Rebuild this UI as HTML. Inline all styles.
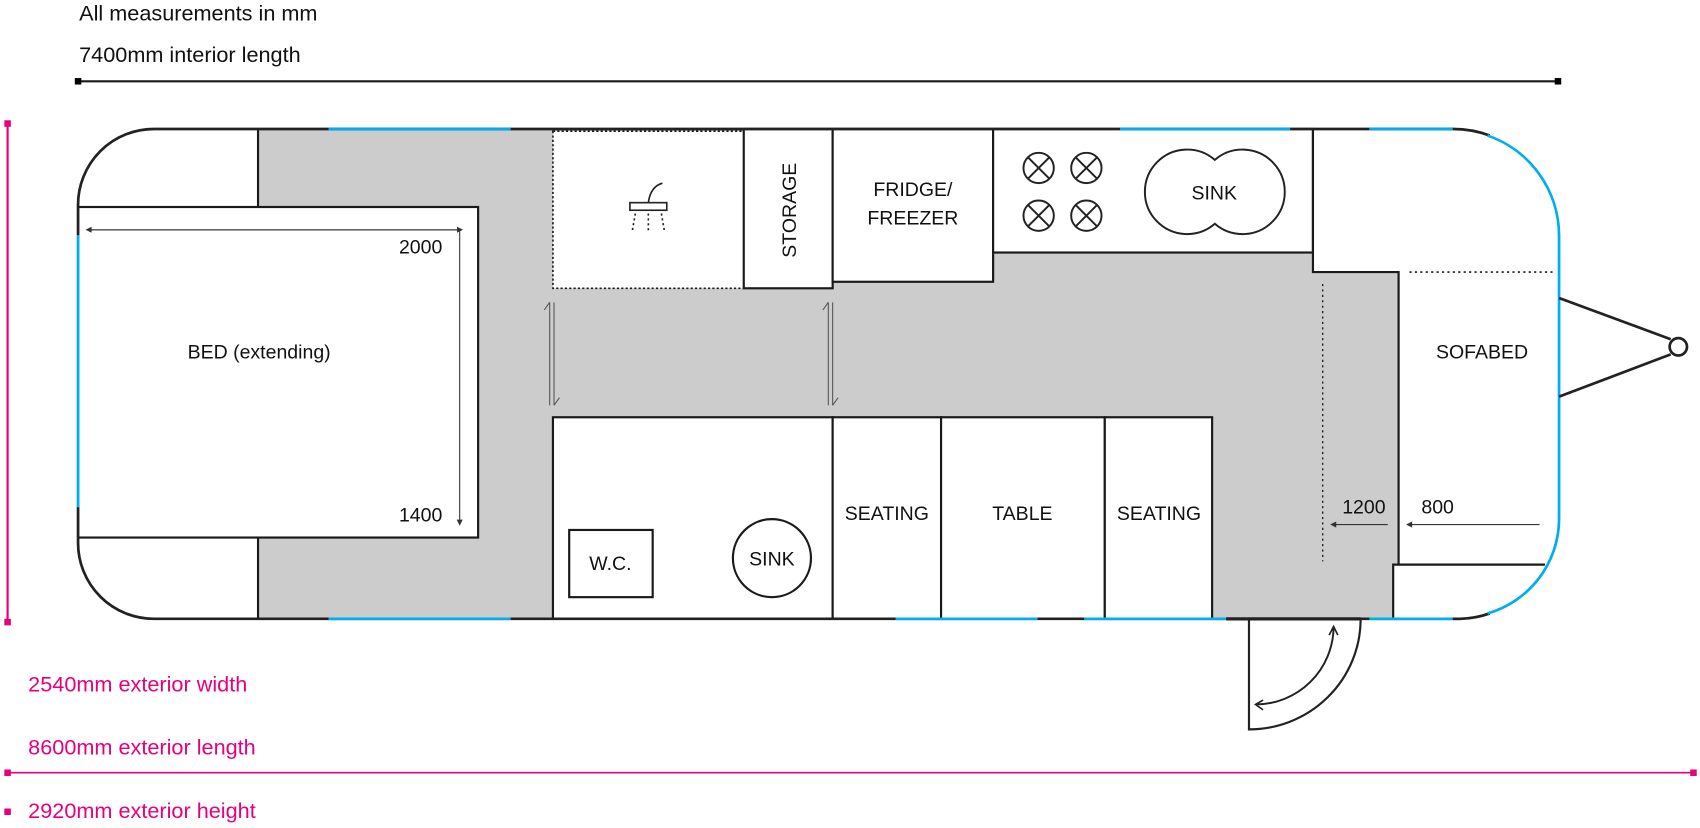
<!DOCTYPE html>
<html><head><meta charset="utf-8"><style>
html,body{margin:0;padding:0;background:#fff;}
svg{display:block;}
text{font-family:"Liberation Sans",sans-serif;fill:#111;}
</style></head><body>
<svg width="1700" height="828" viewBox="0 0 1568 764" preserveAspectRatio="none" xmlns="http://www.w3.org/2000/svg">
<rect width="1568" height="764" fill="#fff"/>
<text x="73" y="19" font-size="20">All measurements in mm</text>
<text x="73" y="57" font-size="20">7400mm interior length</text>
<line x1="72" y1="75" x2="1437" y2="75" stroke="#1a1a1a" stroke-width="2"/>
<rect x="69" y="72" width="6" height="6" fill="#000"/><rect x="1434" y="72" width="6" height="6" fill="#000"/>

<rect x="238" y="119" width="1052" height="452" fill="#ccc"/>
<g fill="#fff" stroke="#1a1a1a" stroke-width="2">
<path d="M142,119 L238,119 L238,191 L72,191 L72,189 A70 70 0 0 1 142,119 Z" stroke="none"/>
<line x1="238" y1="119" x2="238" y2="191"/>
<path d="M72,496 L238,496 L238,571 L142,571 A70 70 0 0 1 72,501 Z" stroke="none"/>
<line x1="238" y1="496" x2="238" y2="571"/>
<rect x="72" y="191" width="369" height="305"/>
<rect x="510" y="121" width="176" height="145" stroke-dasharray="2,2" stroke-width="1.5"/>
<rect x="686" y="119" width="82" height="147"/>
<rect x="768" y="119" width="148" height="141"/>
<rect x="916" y="119" width="295" height="114"/>
<path d="M1211,119 L1340,119 A98 98 0 0 1 1438,217 L1438,480 A91 91 0 0 1 1347,571 L1285,571 L1285,521 L1290,521 L1290,251 L1211,251 Z" stroke="none"/>
<polyline points="1211,119 1211,251 1290,251 1290,521" fill="none"/>
<polyline points="1285,571 1285,521 1425,521" fill="none"/>
<rect x="510" y="385" width="258" height="186"/>
<rect x="768" y="385" width="100" height="186"/>
<rect x="868" y="385" width="151" height="186"/>
<rect x="1019" y="385" width="99" height="186"/>
<rect x="525" y="489" width="77" height="62"/>
<circle cx="712" cy="515" r="36"/>
</g>
<line x1="1300" y1="251" x2="1433" y2="251" stroke="#1a1a1a" stroke-width="1.5" stroke-dasharray="2,3"/>
<line x1="1220" y1="262" x2="1220" y2="518" stroke="#1a1a1a" stroke-width="1.2" stroke-dasharray="2,3"/>

<g fill="none" stroke="#222" stroke-width="2.5">
<path d="M72,217 L72,189 A70 70 0 0 1 142,119 L1340,119"/>
<path d="M72,468 L72,501 A70 70 0 0 0 142,571 L1347,571"/>
<path d="M1335,119 L1340,119 A98 98 0 0 1 1374,125"/>
<path d="M1340,571 L1347,571 A91 91 0 0 0 1374,566"/>
</g>
<g fill="none" stroke="#00AEEF" stroke-width="2.5">
<line x1="72" y1="217" x2="72" y2="468"/>
<line x1="303" y1="119" x2="471" y2="119"/>
<line x1="1033" y1="119" x2="1190" y2="119"/>
<line x1="1263" y1="119" x2="1340" y2="119"/>
<path d="M1372,125 A98 98 0 0 1 1438,217 L1438,480 A91 91 0 0 1 1372,566"/>
<line x1="303" y1="571" x2="471" y2="571"/>
<line x1="826" y1="571" x2="957" y2="571"/>
<line x1="1000" y1="571" x2="1131" y2="571"/>
<line x1="1263" y1="571" x2="1340" y2="571"/>
</g>
<line x1="1131" y1="571" x2="1255" y2="571" stroke="#222" stroke-width="3"/>

<g fill="none" stroke="#222" stroke-width="2">
<path d="M1152,572 L1152,673 A103 102 0 0 0 1255,572"/>
<path d="M1230,580 A72 72 0 0 1 1159,650" stroke-width="1.8"/>
<path d="M1226,586 L1230,578 L1234,586" stroke-width="1.5"/>
<path d="M1165,646 L1158,650 L1165,655" stroke-width="1.5"/>
</g>

<g stroke="#222" stroke-width="2.5" fill="none">
<line x1="1438" y1="275" x2="1541" y2="313"/>
<line x1="1438" y1="366" x2="1541" y2="327"/>
<circle cx="1548" cy="320" r="8" fill="#fff"/>
</g>

<g fill="none" stroke="#222" stroke-width="1.8">
<circle cx="958" cy="155" r="14"/><circle cx="1002" cy="155" r="14"/>
<circle cx="958" cy="199" r="14"/><circle cx="1002" cy="199" r="14"/>
<path d="M948,145 L968,165 M968,145 L948,165 M992,145 L1012,165 M1012,145 L992,165 M948,189 L968,209 M968,189 L948,209 M992,189 L1012,209 M1012,189 L992,209"/>
<path d="M1120.5,147.5 A39 39 0 1 0 1120.5,206.5 A39 39 0 1 0 1120.5,147.5 Z" fill="#fff"/>
</g>

<g fill="none" stroke="#222" stroke-width="1.5">
<rect x="581" y="187" width="34" height="7"/>
<path d="M598,187 Q600,172 611,169"/>
<path d="M586,197 L583,214 M598,197 L598,214 M610,197 L613,214" stroke-dasharray="2,2.5"/>
</g>

<g fill="none" stroke="#555" stroke-width="1">
<line x1="507" y1="279" x2="507" y2="374"/><line x1="511" y1="279" x2="511" y2="374"/>
<path d="M507,279 L502,286 M511,374 L516,367"/>
<line x1="764" y1="279" x2="764" y2="374"/><line x1="768" y1="279" x2="768" y2="374"/>
<path d="M764,279 L759,286 M768,374 L773,367"/>
</g>

<g stroke="#333" stroke-width="1" fill="#333">
<line x1="81" y1="212" x2="424" y2="212" stroke="#666" stroke-width="1.5"/>
<line x1="424" y1="212" x2="424" y2="482"/>
<path d="M80,212 l4,-2 v4 z M426,212 l-4,-2 v4 z M424,484 l-2,-4 h4 z"/>
<line x1="1230" y1="484" x2="1280" y2="484"/>
<path d="M1228,484 l4,-2 v4 z"/>
<line x1="1300" y1="484" x2="1420" y2="484"/>
<path d="M1298,484 l4,-2 v4 z"/>
</g>

<g font-size="18" text-anchor="middle">
<text x="239" y="331">BED (extending)</text>
<text x="388" y="234">2000</text>
<text x="388" y="481">1400</text>
<text x="842" y="181">FRIDGE/</text>
<text x="842" y="207">FREEZER</text>
<text x="1120" y="184">SINK</text>
<text x="1367" y="331">SOFABED</text>
<text x="818" y="480">SEATING</text>
<text x="943" y="480">TABLE</text>
<text x="1069" y="480">SEATING</text>
<text x="563" y="526">W.C.</text>
<text x="712" y="522">SINK</text>
<text x="1258" y="474">1200</text>
<text x="1326" y="474">800</text>
<text transform="translate(734,194) rotate(-90)">STORAGE</text>
</g>

<g fill="#E6007E">
<rect x="4" y="111" width="6" height="6"/><rect x="4" y="571" width="6" height="6"/>
<rect x="4" y="710" width="6" height="6"/><rect x="1559" y="710" width="6" height="6"/>
<rect x="4" y="746" width="6" height="6"/>
</g>
<line x1="7" y1="114" x2="7" y2="574" stroke="#E6007E" stroke-width="2"/>
<line x1="7" y1="713" x2="1562" y2="713" stroke="#E6007E" stroke-width="1.5"/>
<g font-size="20">
<text x="26" y="638" style="fill:#E6007E">2540mm exterior width</text>
<text x="26" y="696" style="fill:#E6007E">8600mm exterior length</text>
<text x="26" y="755" style="fill:#E6007E">2920mm exterior height</text>
</g>
</svg>
</body></html>
